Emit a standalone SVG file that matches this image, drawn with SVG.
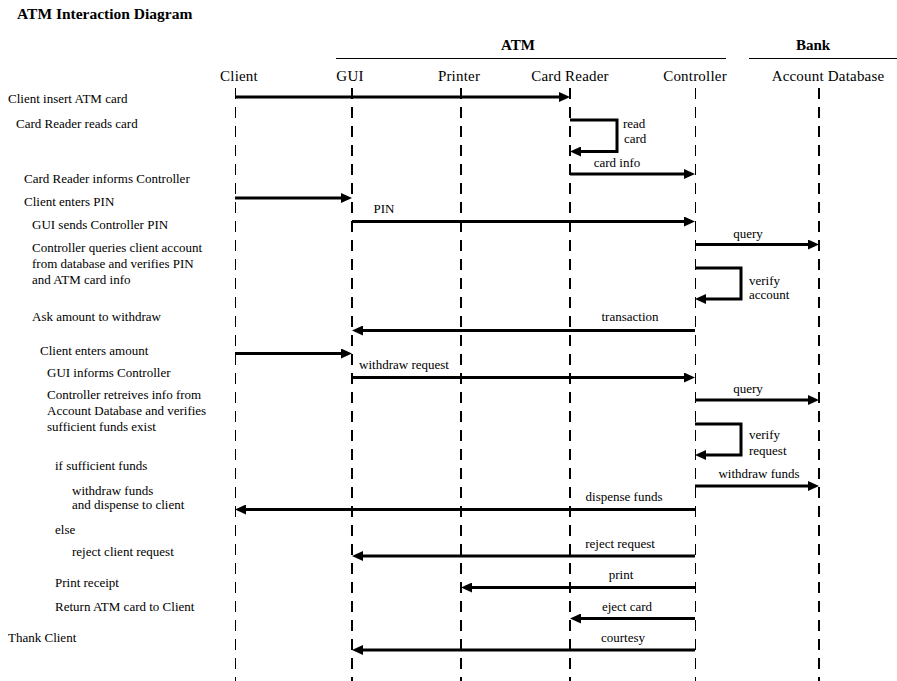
<svg xmlns="http://www.w3.org/2000/svg" width="897" height="681" viewBox="0 0 897 681">
<style>
text{font-family:"Liberation Serif","Times New Roman",serif;fill:#000}
.title{font-size:15.5px;font-weight:bold}
.grp{font-size:15px;font-weight:bold;text-anchor:middle}
.part{font-size:15px;letter-spacing:0.2px;text-anchor:middle}
.step{font-size:13px}
.lbl{font-size:13px;text-anchor:middle}
.lbs{font-size:13px}
.life{stroke:#000;stroke-dasharray:11 8;fill:none}
.thin{stroke-width:1}
.thick{stroke-width:2}
.msg{stroke:#000;stroke-width:3;fill:none;marker-end:url(#ah);stroke-linejoin:miter}
.rule{stroke:#000;stroke-width:1}
</style>
<defs>
<marker id="ah" viewBox="0 0 11 10" markerWidth="11" markerHeight="10" refX="5" refY="5" orient="auto" markerUnits="userSpaceOnUse">
<path d="M0,0 L11,5 L0,10 z" fill="#000"/>
</marker>
</defs>
<rect width="897" height="681" fill="#fff"/>
<text class="title" x="17" y="19">ATM Interaction Diagram</text>
<g id="group-atm">
<text class="grp" x="518" y="50">ATM</text>
<line class="rule" x1="336" y1="58.5" x2="726" y2="58.5"/>
</g>
<g id="group-bank">
<text class="grp" x="813" y="50">Bank</text>
<line class="rule" x1="749" y1="58.5" x2="897" y2="58.5"/>
</g>
<g id="client">
<text class="part" x="239" y="81">Client</text>
<line class="life thin" x1="235.5" y1="88" x2="235.5" y2="681"/>
</g>
<g id="gui">
<text class="part" x="350" y="81">GUI</text>
<line class="life thick" x1="352" y1="88" x2="352" y2="681"/>
</g>
<g id="printer">
<text class="part" x="459" y="81">Printer</text>
<line class="life thick" x1="461" y1="88" x2="461" y2="681"/>
</g>
<g id="card-reader">
<text class="part" x="570" y="81">Card Reader</text>
<line class="life thick" x1="570" y1="88" x2="570" y2="681"/>
</g>
<g id="controller">
<text class="part" x="695" y="81">Controller</text>
<line class="life thin" x1="695.5" y1="88" x2="695.5" y2="681"/>
</g>
<g id="account-database">
<text class="part" x="828" y="81">Account Database</text>
<line class="life thick" x1="819" y1="88" x2="819" y2="681"/>
</g>
<g id="steps">
<text class="step" x="8" y="103">Client insert ATM card</text>
<text class="step" x="16" y="128">Card Reader reads card</text>
<text class="step" x="24" y="183">Card Reader informs Controller</text>
<text class="step" x="24" y="206">Client enters PIN</text>
<text class="step" x="32" y="229">GUI sends Controller PIN</text>
<text class="step" x="32" y="252">Controller queries client account</text>
<text class="step" x="32" y="268">from database and verifies PIN</text>
<text class="step" x="32" y="284">and ATM card info</text>
<text class="step" x="32" y="321">Ask amount to withdraw</text>
<text class="step" x="40" y="355">Client enters amount</text>
<text class="step" x="47" y="377">GUI informs Controller</text>
<text class="step" x="47" y="399">Controller retreives info from</text>
<text class="step" x="47" y="415">Account Database and verifies</text>
<text class="step" x="47" y="431">sufficient funds exist</text>
<text class="step" x="55" y="470">if sufficient funds</text>
<text class="step" x="72" y="495">withdraw funds</text>
<text class="step" x="72" y="509">and dispense to client</text>
<text class="step" x="55" y="534">else</text>
<text class="step" x="72" y="556">reject client request</text>
<text class="step" x="55" y="587">Print receipt</text>
<text class="step" x="55" y="611">Return ATM card to Client</text>
<text class="step" x="8" y="642">Thank Client</text>
</g>
<g id="connectors">
<line class="msg" x1="235" y1="97" x2="564" y2="97"/>
<path class="msg" d="M570,120 H617 V151.5 H576"/>
<text class="lbs" x="623" y="128">read</text>
<text class="lbs" x="624" y="143">card</text>
<line class="msg" x1="570" y1="174" x2="689" y2="174"/>
<text class="lbl" x="617" y="167">card info</text>
<line class="msg" x1="235" y1="198" x2="346" y2="198"/>
<line class="msg" x1="352" y1="221.5" x2="689" y2="221.5"/>
<text class="lbl" x="384" y="213">PIN</text>
<line class="msg" x1="695" y1="244.5" x2="813" y2="244.5"/>
<text class="lbl" x="748" y="238">query</text>
<path class="msg" d="M695,268 H741 V299 H701"/>
<text class="lbs" x="749" y="285">verify</text>
<text class="lbs" x="749" y="299">account</text>
<line class="msg" x1="695" y1="330.5" x2="358" y2="330.5"/>
<text class="lbl" x="630" y="321">transaction</text>
<line class="msg" x1="235" y1="353.5" x2="346" y2="353.5"/>
<line class="msg" x1="352" y1="377.5" x2="689" y2="377.5"/>
<text class="lbl" x="404" y="369">withdraw request</text>
<line class="msg" x1="695" y1="400" x2="813" y2="400"/>
<text class="lbl" x="748" y="393">query</text>
<path class="msg" d="M695,424 H741 V455 H701"/>
<text class="lbs" x="749" y="439">verify</text>
<text class="lbs" x="749" y="455">request</text>
<line class="msg" x1="695" y1="486" x2="813" y2="486"/>
<text class="lbl" x="759" y="478">withdraw funds</text>
<line class="msg" x1="695" y1="509.5" x2="241" y2="509.5"/>
<text class="lbl" x="624" y="501">dispense funds</text>
<line class="msg" x1="695" y1="556" x2="358" y2="556"/>
<text class="lbl" x="620" y="548">reject request</text>
<line class="msg" x1="695" y1="587.5" x2="467" y2="587.5"/>
<text class="lbl" x="621" y="579">print</text>
<line class="msg" x1="695" y1="618.5" x2="576" y2="618.5"/>
<text class="lbl" x="627" y="611">eject card</text>
<line class="msg" x1="695" y1="650" x2="358" y2="650"/>
<text class="lbl" x="623" y="642">courtesy</text>
</g>
</svg>
